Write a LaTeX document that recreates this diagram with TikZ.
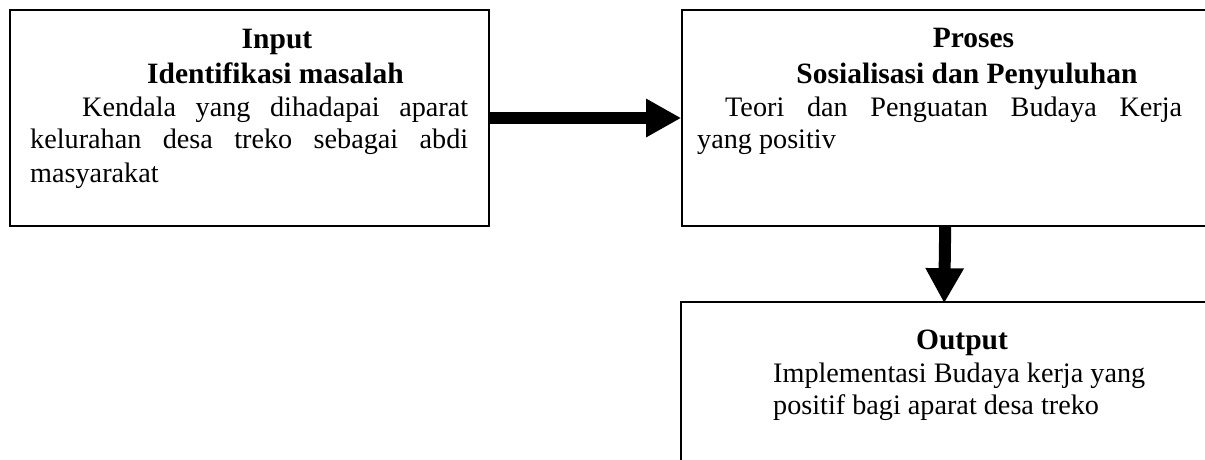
\documentclass[tikz,border=0pt]{standalone}
\usepackage{fontspec}
\setmainfont{Liberation Serif}
\usetikzlibrary{arrows.meta}
\begin{document}
\begin{tikzpicture}[x=1pt,y=-1pt,
  box/.style={draw,line width=1.6pt,rectangle,inner sep=0pt},
  txt/.style={inner sep=0pt,anchor=base west,font=\fontsize{28.2}{34}\selectfont},
  head/.style={inner sep=0pt,anchor=base,font=\bfseries\fontsize{29.5}{34}\selectfont},
  fatarrow/.style={line width=12pt,-{Triangle[length=35pt,width=36pt]}}]
\useasboundingbox (0,0) rectangle (1205,459);
\fill[white] (0,0) rectangle (1205,459);
\clip (0,0) rectangle (1205,459);
% boxes
\node[box,minimum width=479pt,minimum height=216pt] (in1) at (249.5,118) {};
\node[box,minimum width=533pt,minimum height=216pt] (proc) at (948.5,118) {};
\node[box,minimum width=534pt,minimum height=168pt] (out) at (948,386) {};
% box 1 text
\node[head] (h1a) at (277,48) {Input};
\node[head] (h1b) at (275.5,83) {Identifikasi masalah};
\node[txt] (t1a) at (82,116) {\makebox[386pt][s]{Kendala yang dihadapai aparat}};
\node[txt] (t1b) at (30,148) {\makebox[438pt][s]{kelurahan desa treko sebagai abdi}};
\node[txt] (t1c) at (30,182) {masyarakat};
% box 2 text
\node[head] (h2a) at (973.5,47) {Proses};
\node[head] (h2b) at (967,83) {Sosialisasi dan Penyuluhan};
\node[txt] (t2a) at (725,116) {\makebox[457pt][s]{Teori dan Penguatan Budaya Kerja}};
\node[txt] (t2b) at (697,148) {yang positiv};
% box 3 text
\node[head] (h3a) at (962,349) {Output};
\node[txt] (t3a) at (773,382) {Implementasi Budaya kerja yang};
\node[txt] (t3b) at (773,414) {positif bagi aparat desa treko};
% arrows
\draw[fatarrow] (in1.east) -- (proc.west);
\draw[fatarrow] ([xshift=264pt]proc.south west) -- ([xshift=264pt,yshift=-2pt]out.north west);
\end{tikzpicture}
\end{document}
